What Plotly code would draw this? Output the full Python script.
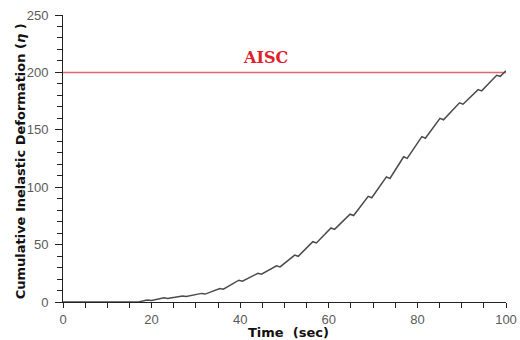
import plotly.graph_objects as go

# Time history of cumulative inelastic deformation (staircase growth)
time_sec = [0, 17.0, 19.0, 20.0, 22.8, 23.6, 27.0, 27.8, 31.3, 32.1, 35.4, 36.2,
            39.7, 40.5, 44.0, 44.8, 48.2, 49.0, 52.3, 53.1, 56.4, 57.2, 60.5, 61.3,
            64.8, 65.6, 68.9, 69.7, 73.0, 73.8, 76.9, 77.7, 81.0, 81.8, 85.1, 85.9,
            89.5, 90.3, 93.7, 94.5, 97.9, 98.7, 100.0]
deformation = [0, 0, 1.8, 1.3, 3.6, 3.1, 5.3, 4.7, 7.5, 6.9, 11.8, 11.2,
               19.0, 18.2, 25.0, 24.2, 31.5, 30.6, 40.8, 39.8, 52.5, 51.4, 64.5, 63.3,
               76.5, 75.3, 92.0, 90.8, 109.0, 107.6, 126.5, 125.1, 144.0, 142.6, 160.0, 158.7,
               173.5, 172.3, 185.0, 183.9, 197.5, 196.6, 201.5]

# AISC limit
aisc_limit = 200
aisc_label = "AISC"
x_range = [0, 100]
y_range = [0, 250]
x_ticks = [0, 20, 40, 60, 80, 100]
y_ticks = [0, 50, 100, 150, 200, 250]
x_title = "Time  (sec)"
y_title = "Cumulative Inelastic Deformation (<i>η</i> )"

fig = go.Figure()

fig.add_trace(go.Scatter(
    x=x_range, y=[aisc_limit, aisc_limit], mode="lines",
    line=dict(color="#e06868", width=1.5), showlegend=False, hoverinfo="skip"))

fig.add_trace(go.Scatter(
    x=time_sec, y=deformation, mode="lines",
    line=dict(color="#4a4a4a", width=1.5), showlegend=False))

fig.add_annotation(
    x=45.7, y=aisc_limit, yshift=15, text="<b>" + aisc_label + "</b>",
    showarrow=False, xanchor="center", yanchor="middle",
    font=dict(family="DejaVu Serif", size=16, color="#e0202a"))

title_font = dict(family="DejaVu Sans", size=13, color="#111111")

# axis titles placed as paper-anchored annotations
fig.add_annotation(
    xref="paper", yref="paper", x=0.508, y=0, yshift=-30,
    text="<b>" + x_title + "</b>", showarrow=False,
    xanchor="center", yanchor="middle", font=title_font)
fig.add_annotation(
    xref="paper", yref="paper", x=0, y=0.49, xshift=-43, textangle=-90,
    text="<b>" + y_title + "</b>", showarrow=False,
    xanchor="center", yanchor="middle", font=title_font)

tick_font = dict(family="Liberation Sans", size=13, color="#5a5a5a")

fig.update_xaxes(
    range=x_range, tickvals=x_ticks, ticks="outside", ticklen=5, tickwidth=1,
    tickcolor="#222222", showline=True, linecolor="#222222", linewidth=1,
    showgrid=False, zeroline=False, tickfont=tick_font, automargin=False,
    minor=dict(dtick=5, ticks="outside", ticklen=5, tickcolor="#222222", showgrid=False))

fig.update_yaxes(
    range=y_range, tickvals=y_ticks, ticks="outside", ticklen=7, tickwidth=1,
    tickcolor="#222222", showline=True, linecolor="#222222", linewidth=1,
    showgrid=False, zeroline=False, tickfont=tick_font, automargin=False,
    ticklabelstandoff=4,
    minor=dict(dtick=10, ticks="outside", ticklen=5, tickcolor="#222222", showgrid=False))

fig.update_layout(
    width=520, height=340,
    margin=dict(l=63, r=14, t=15, b=38),
    paper_bgcolor="white", plot_bgcolor="white")

fig.write_html("out.html")
